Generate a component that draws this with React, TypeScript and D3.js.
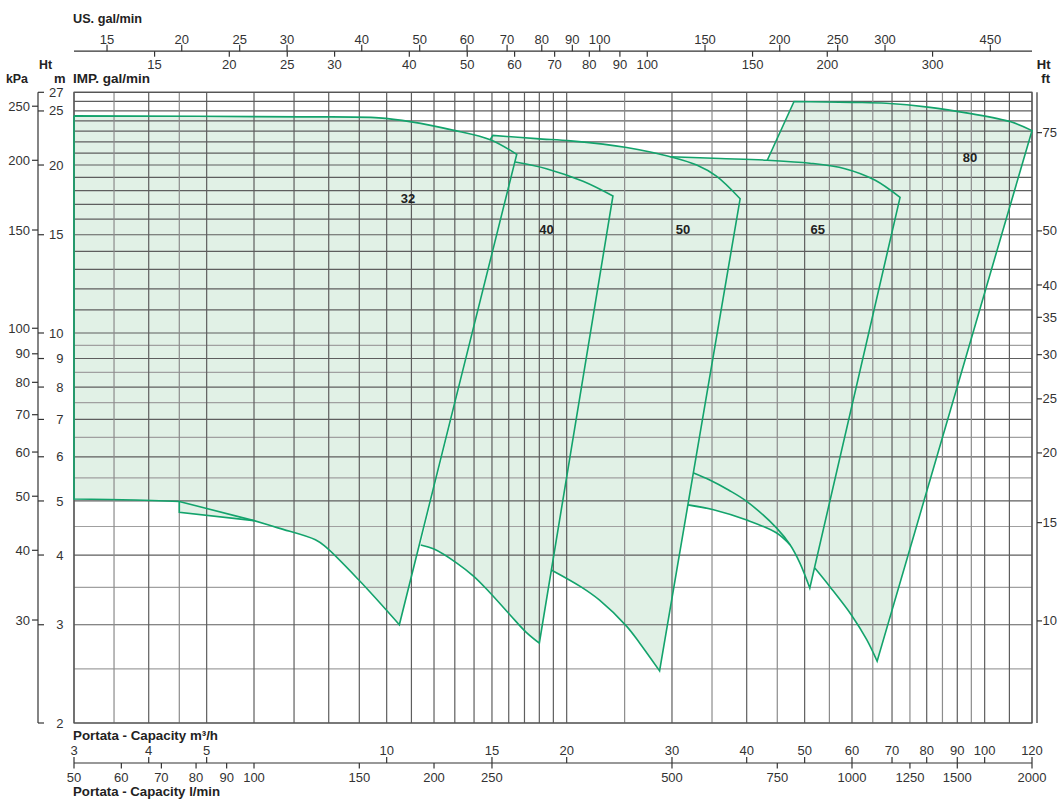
import React from "react";
import * as d3 from "d3";

type Pt = [number, number];

// ---------- grid values ----------
const FLOW_GRID = [3, 3.5, 4, 4.5, 5, 6, 7, 8, 9, 10, 11, 12, 13, 14, 15, 16, 17, 18, 19, 20, 25, 30, 35, 40, 45, 50, 55, 60, 65, 70, 75, 80, 85, 90, 95, 100, 110, 120];
const HEAD_GRID = [2, 2.5, 3, 3.5, 4, 4.5, 5, 5.5, 6, 6.5, 7, 7.5, 8, 8.5, 9, 9.5, 10, 11, 12, 13, 14, 15, 16, 17, 18, 19, 20, 21, 22, 23, 24, 25, 26, 27];

// ---------- tick labels ----------
const M3H_TICKS = [3, 4, 5, 10, 15, 20, 30, 40, 50, 60, 70, 80, 90, 100, 120];
const LMIN_TICKS = [50, 60, 70, 80, 90, 100, 150, 200, 250, 500, 750, 1000, 1250, 1500, 2000];
const USGPM_TICKS = [15, 20, 25, 30, 40, 50, 60, 70, 80, 90, 100, 150, 200, 250, 300, 450];
const IMPGPM_TICKS = [15, 20, 25, 30, 40, 50, 60, 70, 80, 90, 100, 150, 200, 300];
const M_TICKS = [2, 3, 4, 5, 6, 7, 8, 9, 10, 15, 20, 25, 27];
const KPA_TICKS = [30, 40, 50, 60, 70, 80, 90, 100, 150, 200, 250];
const FT_TICKS = [10, 15, 20, 25, 30, 35, 40, 50, 75];

// ---------- pump curves [Q m3/h, H m] ----------
const P32_TOP: Pt[] = [[3, 24.5], [7.2, 24.4], [9.7, 24.3], [11, 23.9], [12.9, 23.1], [14.9, 22.2], [16.5, 20.9]];
const P32_LIMIT: Pt[] = [[16.5, 20.9], [10.5, 3.0]];
const P32_BOTTOM: Pt[] = [[10.5, 3.0], [9.0, 3.6], [7.9, 4.14], [7.6, 4.26], [6.6, 4.47], [6.0, 4.61]];
const P32_NOTCH: Pt[] = [[6.0, 4.61], [4.5, 4.77], [4.5, 4.99]];
const P32_BOTTOM_LEFT: Pt[] = [[4.5, 4.99], [3.8, 5.02], [3, 5.04]];
const P32_LEFT: Pt[] = [[3, 5.04], [3, 24.5]];
const P32_UPPER: Pt[] = [[4.5, 4.99], [6.0, 4.61]];

const P40_TOP: Pt[] = [[16.4, 20.25], [18.5, 19.7], [21.3, 18.7], [23.9, 17.6]];
const P40_LIMIT: Pt[] = [[23.9, 17.6], [18.0, 2.78]];
const P40_BOTTOM: Pt[] = [[18.0, 2.78], [17.1, 2.91], [16.1, 3.12], [14.9, 3.42], [14.0, 3.66], [13.1, 3.87], [12.0, 4.1], [11.4, 4.17]];

const P50_EDGE: Pt[] = [[14.9, 22.2], [15.05, 22.6]];
const P50_TOP: Pt[] = [[15.05, 22.6], [17.8, 22.3], [20.3, 22.1], [23.0, 21.8], [25.2, 21.5], [27.6, 21.1], [29.8, 20.7], [33.0, 20.0], [35.6, 19.1], [39.0, 17.4]];
const P50_LIMIT: Pt[] = [[39.0, 17.4], [28.6, 2.48]];
const P50_BOTTOM: Pt[] = [[28.6, 2.48], [26.5, 2.78], [25.2, 2.98], [22.7, 3.32], [21.1, 3.51], [18.85, 3.76]];

const P65_TOP: Pt[] = [[29.8, 20.7], [36.1, 20.55], [43.3, 20.4], [51, 20.15], [58.4, 19.7], [65.5, 18.8], [72.2, 17.5]];
const P65_LIMIT: Pt[] = [[72.2, 17.5], [51, 3.49]];
const P65_BOTTOM_A: Pt[] = [[51, 3.49], [49.1, 3.87], [47.3, 4.17]];
const P65_BOTTOM_B: Pt[] = [[47.3, 4.17], [44.9, 4.47], [40, 4.99], [37.3, 5.23], [34.7, 5.45], [32.6, 5.61]];
const P65_ALT: Pt[] = [[47.3, 4.17], [44.9, 4.38], [40, 4.62], [35.2, 4.82], [31.9, 4.92]];

const P80_LEFT: Pt[] = [[43.3, 20.4], [48, 26.0]];
const P80_TOP: Pt[] = [[48, 26.0], [60, 25.9], [68.5, 25.8], [80.4, 25.4], [94.3, 24.75], [110.6, 23.9], [120, 23.05]];
const P80_LIMIT: Pt[] = [[120, 23.05], [66.1, 2.58]];
const P80_BOTTOM: Pt[] = [[66.1, 2.58], [63.5, 2.82], [59.9, 3.12], [55.1, 3.51], [52.0, 3.79]];

const PUMP_NAMES = ["32", "40", "50", "65", "80"];
const PUMP_LABEL_Q = [10.86, 18.5, 31.3, 52.6, 94.5];
const PUMP_LABEL_H = [17.4, 15.3, 15.3, 15.3, 20.6];

// unit conversions
const US_PER_M3H = 4.40287;
const IMP_PER_M3H = 3.66615;
const KPA_PER_M = 9.80665;
const M_PER_FT = 0.3048;

const GREEN = "#13a36c";
const FILL = "#e1f1e6";
const FONT = "'Liberation Sans', Arial, Helvetica, sans-serif";

export default function App() {
  const x = d3.scaleLog().domain([3, 120]).range([74, 1032]);
  const y = d3.scaleLog().domain([2, 27]).range([723, 92.3]);

  const curveGen = d3.line<Pt>().x((d) => x(d[0])).y((d) => y(d[1])).curve(d3.curveCatmullRom.alpha(0.5));
  const lineGen = d3.line<Pt>().x((d) => x(d[0])).y((d) => y(d[1]));

  type Seg = { pts: Pt[]; c: boolean };
  const join = (segs: Seg[], close: boolean) => {
    let s = "";
    segs.forEach((sg, i) => {
      const g = (sg.c ? curveGen : lineGen)(sg.pts) || "";
      s += i === 0 ? g : "L" + g.slice(1);
    });
    return close ? s + "Z" : s;
  };

  const fills = [
    join([{ pts: P32_TOP, c: true }, { pts: P32_LIMIT, c: false }, { pts: P32_BOTTOM, c: true }, { pts: P32_NOTCH, c: false }, { pts: P32_BOTTOM_LEFT, c: true }], true),
    join([{ pts: P40_TOP, c: true }, { pts: P40_LIMIT, c: false }, { pts: P40_BOTTOM, c: true }], true),
    join([{ pts: P50_EDGE, c: false }, { pts: P50_TOP, c: true }, { pts: P50_LIMIT, c: false }, { pts: P50_BOTTOM, c: true }], true),
    join([{ pts: P65_TOP, c: true }, { pts: P65_LIMIT, c: false }, { pts: P65_BOTTOM_A, c: true }, { pts: P65_ALT, c: true }], true),
    join([{ pts: P80_LEFT, c: false }, { pts: P80_TOP, c: true }, { pts: P80_LIMIT, c: false }, { pts: P80_BOTTOM, c: true }], true),
  ];

  const strokes = [
    join([{ pts: P32_TOP, c: true }, { pts: P32_LIMIT, c: false }, { pts: P32_BOTTOM, c: true }, { pts: P32_NOTCH, c: false }, { pts: P32_BOTTOM_LEFT, c: true }, { pts: P32_LEFT, c: false }], false),
    join([{ pts: P32_UPPER, c: false }], false),
    join([{ pts: P40_TOP, c: true }, { pts: P40_LIMIT, c: false }, { pts: P40_BOTTOM, c: true }], false),
    join([{ pts: P50_EDGE, c: false }, { pts: P50_TOP, c: true }, { pts: P50_LIMIT, c: false }, { pts: P50_BOTTOM, c: true }], false),
    join([{ pts: P65_TOP, c: true }, { pts: P65_LIMIT, c: false }, { pts: P65_BOTTOM_A.concat(P65_BOTTOM_B.slice(1)), c: true }], false),
    join([{ pts: P65_ALT, c: true }], false),
    join([{ pts: P80_LEFT, c: false }, { pts: P80_TOP, c: true }, { pts: P80_LIMIT, c: false }, { pts: P80_BOTTOM, c: true }], false),
  ];

  const [x0, x1] = x.range();
  const yTop = y(27);
  const yBot = y(2);

  const isMajorQ = (v: number) => Number.isInteger(v) && (v <= 20 || v % 10 === 0);
  const isMajorH = (v: number) => Number.isInteger(v);

  const topLine = 51.2;
  const botLine = 763;
  const kpaX = 38;
  const ftX = 1037;
  const titleBase = 82.5;
  const tickTxt = { fontSize: 13, fill: "#333" } as const;

  return (
    <svg width={1062} height={800} style={{ position: "absolute", left: 0, top: 0, display: "block" }} fontFamily={FONT}>
      <rect x={0} y={0} width={1062} height={800} fill="#fff" />

      {/* fills */}
      {fills.map((d, i) => (
        <path key={"f" + i} d={d} fill={FILL} stroke="none" />
      ))}

      {/* grid */}
      {HEAD_GRID.map((v) => (
        <line key={"h" + v} x1={x0} x2={x1} y1={y(v)} y2={y(v)} stroke={isMajorH(v) ? "#5e5e5e" : "#a0a0a0"} strokeWidth={1.2} />
      ))}
      {FLOW_GRID.map((v) => (
        <line key={"v" + v} x1={x(v)} x2={x(v)} y1={yTop} y2={yBot} stroke={isMajorQ(v) ? "#5e5e5e" : "#8c8c8c"} strokeWidth={1.2} />
      ))}
      <rect x={x0} y={yTop} width={x1 - x0} height={yBot - yTop} fill="none" stroke="#555" strokeWidth={1.2} />

      {/* curves */}
      {strokes.map((d, i) => (
        <path key={"s" + i} d={d} fill="none" stroke={GREEN} strokeWidth={1.6} strokeLinejoin="miter" />
      ))}

      {/* pump labels */}
      {PUMP_NAMES.map((n, i) => (
        <text key={"l" + n} x={x(PUMP_LABEL_Q[i])} y={y(PUMP_LABEL_H[i])} dy="0.35em" textAnchor="middle" fontSize={13} fontWeight="bold" fill="#222">
          {n}
        </text>
      ))}

      {/* top axes */}
      <line x1={x0} x2={x1} y1={topLine} y2={topLine} stroke="#333" strokeWidth={1.2} />
      {USGPM_TICKS.map((v) => {
        const px = x(v / US_PER_M3H);
        return (
          <g key={"us" + v}>
            <line x1={px} x2={px} y1={topLine - 6.5} y2={topLine} stroke="#333" strokeWidth={1.2} />
            <text x={px} y={43.5} textAnchor="middle" {...tickTxt}>{v}</text>
          </g>
        );
      })}
      {IMPGPM_TICKS.map((v) => {
        const px = x(v / IMP_PER_M3H);
        return (
          <g key={"imp" + v}>
            <line x1={px} x2={px} y1={topLine} y2={topLine + 5.5} stroke="#333" strokeWidth={1.2} />
            <text x={px} y={68.7} textAnchor="middle" {...tickTxt}>{v}</text>
          </g>
        );
      })}
      <text x={73} y={23} fontSize={13} fontWeight="bold" fill="#222" textLength={69} lengthAdjust="spacingAndGlyphs">US. gal/min</text>
      <text x={73} y={titleBase} fontSize={13} fontWeight="bold" fill="#222" textLength={77} lengthAdjust="spacingAndGlyphs">IMP. gal/min</text>
      <text x={39} y={68.7} fontSize={13} fontWeight="bold" fill="#222" textLength={13} lengthAdjust="spacingAndGlyphs">Ht</text>
      <text x={6} y={titleBase} fontSize={13} fontWeight="bold" fill="#222" textLength={22} lengthAdjust="spacingAndGlyphs">kPa</text>
      <text x={65.5} y={titleBase} fontSize={13} fontWeight="bold" fill="#222" textAnchor="end">m</text>
      <text x={1050.5} y={68.7} fontSize={13} fontWeight="bold" fill="#222" textAnchor="end">Ht</text>
      <text x={1050} y={titleBase} fontSize={13} fontWeight="bold" fill="#222" textAnchor="end">ft</text>

      {/* left axes */}
      <line x1={kpaX} x2={kpaX} y1={yTop} y2={yBot} stroke="#333" strokeWidth={1.2} />
      {KPA_TICKS.map((v) => {
        const py = y(v / KPA_PER_M);
        return (
          <g key={"kpa" + v}>
            <line x1={kpaX - 6} x2={kpaX} y1={py} y2={py} stroke="#333" strokeWidth={1.2} />
            <text x={kpaX - 8} y={py} dy="0.35em" textAnchor="end" {...tickTxt}>{v}</text>
          </g>
        );
      })}
      {M_TICKS.map((v) => {
        const py = y(v);
        return (
          <g key={"m" + v}>
            <line x1={kpaX} x2={kpaX + 6} y1={py} y2={py} stroke="#333" strokeWidth={1.2} />
            <text x={63.5} y={py} dy="0.35em" textAnchor="end" {...tickTxt}>{v}</text>
          </g>
        );
      })}

      {/* right axis */}
      <line x1={ftX} x2={ftX} y1={yTop} y2={yBot} stroke="#333" strokeWidth={1.2} />
      {FT_TICKS.map((v) => {
        const py = y(v * M_PER_FT);
        return (
          <g key={"ft" + v}>
            <line x1={ftX} x2={ftX + 5} y1={py} y2={py} stroke="#333" strokeWidth={1.2} />
            <text x={ftX + 5.5} y={py} dy="0.35em" textAnchor="start" {...tickTxt}>{v}</text>
          </g>
        );
      })}

      {/* bottom axes */}
      <text x={73} y={739.5} fontSize={13} fontWeight="bold" fill="#222" textLength={145} lengthAdjust="spacingAndGlyphs">Portata - Capacity m³/h</text>
      <line x1={x0} x2={x1} y1={botLine} y2={botLine} stroke="#333" strokeWidth={1.2} />
      {M3H_TICKS.map((v) => {
        const px = x(v);
        return (
          <g key={"m3" + v}>
            <line x1={px} x2={px} y1={botLine - 6} y2={botLine} stroke="#333" strokeWidth={1.2} />
            <text x={px} y={755} textAnchor="middle" {...tickTxt}>{v}</text>
          </g>
        );
      })}
      {LMIN_TICKS.map((v) => {
        const px = x(v * 0.06);
        return (
          <g key={"lm" + v}>
            <line x1={px} x2={px} y1={botLine} y2={botLine + 5.5} stroke="#333" strokeWidth={1.2} />
            <text x={px} y={781.5} textAnchor="middle" {...tickTxt}>{v}</text>
          </g>
        );
      })}
      <text x={73} y={796} fontSize={13} fontWeight="bold" fill="#222" textLength={147} lengthAdjust="spacingAndGlyphs">Portata - Capacity l/min</text>
    </svg>
  );
}
